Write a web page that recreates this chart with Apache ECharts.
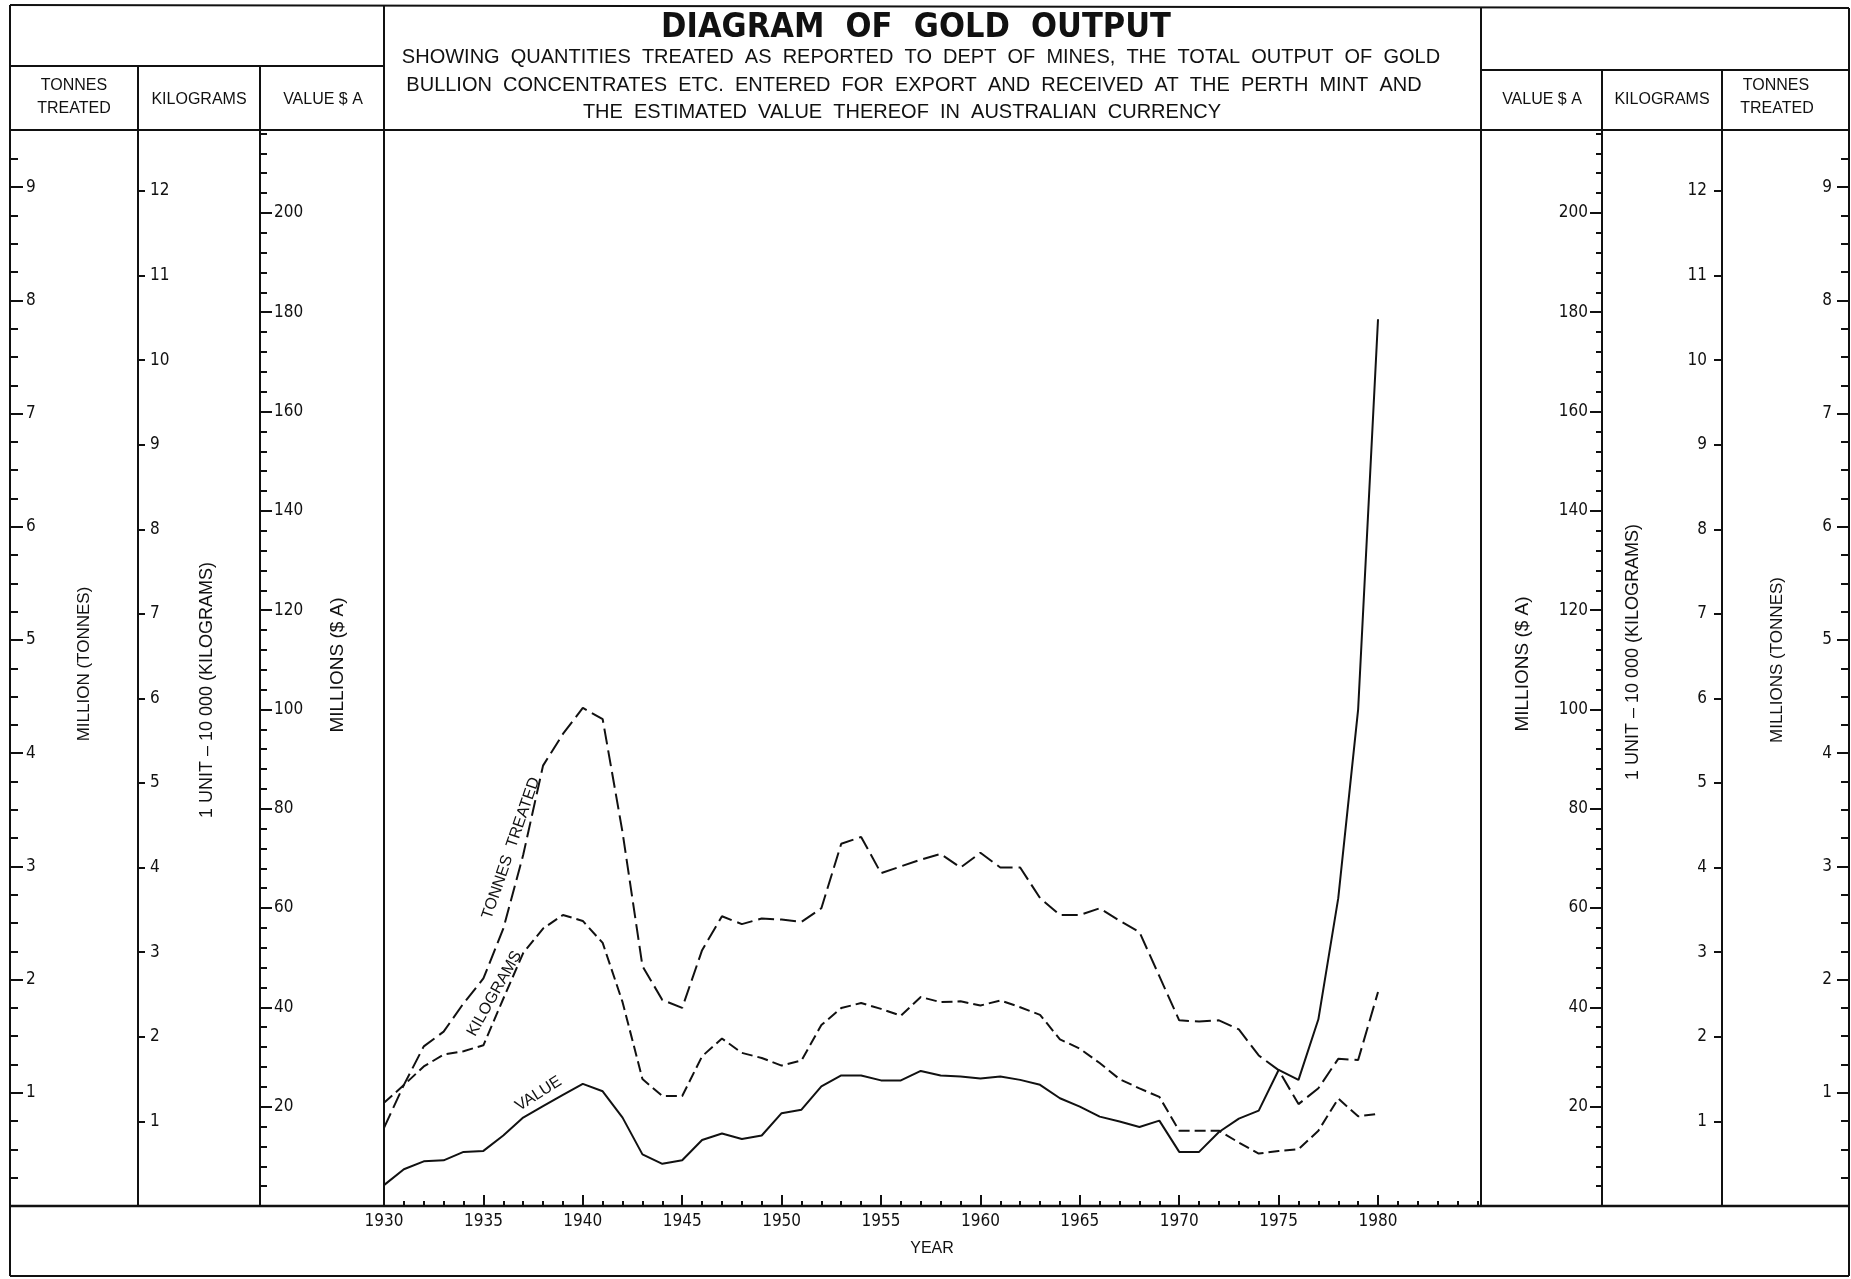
<!DOCTYPE html>
<html><head><meta charset="utf-8">
<script src="https://cdn.jsdelivr.net/npm/echarts@6/dist/echarts.min.js"></script>
<style>html,body{margin:0;padding:0;background:#fff;}#c{width:1851px;height:1279px;}</style>
</head><body><div id="c"></div>
<script>
// ---------------- DATA ----------------
const years = [1930,1931,1932,1933,1934,1935,1936,1937,1938,1939,1940,1941,1942,1943,1944,1945,1946,1947,1948,1949,1950,1951,1952,1953,1954,1955,1956,1957,1958,1959,1960,1961,1962,1963,1964,1965,1966,1967,1968,1969,1970,1971,1972,1973,1974,1975,1976,1977,1978,1979,1980];
// million tonnes treated
const tonnesTreated = [0.69,1.07,1.41,1.54,1.79,2.01,2.45,3.10,3.89,4.17,4.40,4.30,3.30,2.12,1.82,1.75,2.26,2.56,2.49,2.54,2.53,2.51,2.63,3.20,3.26,2.94,3.00,3.06,3.11,2.99,3.12,2.99,2.99,2.72,2.57,2.57,2.63,2.52,2.42,2.03,1.64,1.63,1.64,1.56,1.33,1.20,0.90,1.04,1.30,1.29,1.89];
// kilograms, 1 unit = 10 000 kg
const kilograms = [1.22,1.43,1.65,1.79,1.83,1.90,2.45,2.99,3.28,3.44,3.37,3.11,2.41,1.50,1.30,1.30,1.77,1.98,1.81,1.75,1.66,1.72,2.14,2.34,2.40,2.33,2.25,2.47,2.41,2.42,2.37,2.43,2.35,2.26,1.97,1.86,1.69,1.50,1.39,1.29,0.89,0.89,0.89,0.75,0.62,0.65,0.67,0.89,1.27,1.06,1.09];
// value, millions $A
const valueSA = [4.2,7.4,9.0,9.2,10.9,11.1,14.2,17.8,20.1,22.4,24.6,23.1,17.8,10.4,8.5,9.2,13.3,14.6,13.5,14.2,18.7,19.4,24.1,26.3,26.3,25.3,25.3,27.2,26.3,26.1,25.7,26.1,25.4,24.4,21.7,20.0,18.0,17.0,15.9,17.2,10.9,10.9,14.9,17.6,19.2,27.4,25.4,37.6,62,100,178.6];

const yearLabels = [1930,1935,1940,1945,1950,1955,1960,1965,1970,1975,1980];
const tonnesTickLabels = [1,2,3,4,5,6,7,8,9];
const kgTickLabels = [1,2,3,4,5,6,7,8,9,10,11,12];
const valueTickLabels = [20,40,60,80,100,120,140,160,180,200];

// ---------------- LAYOUT ----------------
const INK = '#111';
const NARROW = "'Liberation Sans Narrow','DejaVu Sans Condensed','Liberation Sans',Arial,sans-serif";
const REG = "'Liberation Sans',Arial,sans-serif";
const L = 10, R = 1849, T = 5, B = 1276, HDR = 67, PT = 130, PB = 1206, PL = 384, PR = 1481;
const X_MIN = 1930, X_MAX = 1985.18;
const T_MAX = 9.505, K_MAX = 12.72, V_MAX = 216.7;

const minorYears = [];
for (let y = 1931; y <= 1985; y++) if (!(y % 5 === 0 && y <= 1980)) minorYears.push(y);
const tonnesMinor = [];
for (let i = 1; i <= 37; i++) if (i % 4 !== 0) tonnesMinor.push(i * 0.25);
const valueMinor = [];
for (let v = 4; v <= 216; v += 4) if (!(v % 20 === 0 && v <= 200)) valueMinor.push(v);

const plain = v => String(Math.round(v));

function yAx(pos, offset, max, ticks, len, labels, margin) {
  return {
    type: 'value', position: pos, offset: offset, min: 0, max: max,
    axisLine: { show: false }, splitLine: { show: false },
    axisTick: { show: true, inside: true, length: len, customValues: ticks, lineStyle: { color: INK, width: 2 } },
    axisLabel: labels ? { show: true, inside: true, margin: margin, customValues: labels, formatter: plain,
      fontSize: 17, fontFamily: NARROW, color: INK } : { show: false }
  };
}

const chart = echarts.init(document.getElementById('c'), null, { width: 1851, height: 1279 });

const option = {
  animation: false,
  backgroundColor: '#fff',
  grid: { left: PL, right: 1851 - PR, top: PT, bottom: 1279 - PB, containLabel: false, outerBoundsMode: 'none' },
  xAxis: [
    { type: 'value', min: X_MIN, max: X_MAX, position: 'bottom',
      axisLine: { show: false }, splitLine: { show: false },
      axisTick: { show: true, inside: true, length: 5, customValues: minorYears, lineStyle: { color: INK, width: 2 } },
      axisLabel: { show: false } },
    { type: 'value', min: X_MIN, max: X_MAX, position: 'bottom',
      axisLine: { show: false }, splitLine: { show: false },
      axisTick: { show: true, inside: true, length: 11, customValues: yearLabels, lineStyle: { color: INK, width: 2 } },
      axisLabel: { show: true, margin: 7, customValues: yearLabels, formatter: plain,
        fontSize: 17, fontFamily: NARROW, color: INK } }
  ],
  yAxis: [
    yAx('left', PL - L, T_MAX, tonnesTickLabels, 13, tonnesTickLabels, 16),   // 0
    yAx('left', PL - L, T_MAX, tonnesMinor, 8),                                // 1
    yAx('left', PL - 138, K_MAX, kgTickLabels, 7, kgTickLabels, 12),          // 2
    yAx('left', PL - 260, V_MAX, valueTickLabels, 12, valueTickLabels, 14),   // 3
    yAx('left', PL - 260, V_MAX, valueMinor, 7),                               // 4
    yAx('right', 1602 - PR, V_MAX, valueTickLabels, 12, valueTickLabels, 14), // 5
    yAx('right', 1602 - PR, V_MAX, valueMinor, 6),                             // 6
    yAx('right', 1722 - PR, K_MAX, kgTickLabels, 8, kgTickLabels, 15),        // 7
    yAx('right', R - PR, T_MAX, tonnesTickLabels, 12, tonnesTickLabels, 17),  // 8
    yAx('right', R - PR, T_MAX, tonnesMinor, 8)                                // 9
  ],
  series: [
    { type: 'line', name: 'TONNES TREATED', xAxisIndex: 1, yAxisIndex: 0, symbol: 'none',
      data: years.map((y, i) => [y, tonnesTreated[i]]),
      lineStyle: { color: INK, width: 2, type: [16, 6] } },
    { type: 'line', name: 'KILOGRAMS', xAxisIndex: 1, yAxisIndex: 2, symbol: 'none',
      data: years.map((y, i) => [y, kilograms[i]]),
      lineStyle: { color: INK, width: 2, type: [11, 5] } },
    { type: 'line', name: 'VALUE', xAxisIndex: 1, yAxisIndex: 3, symbol: 'none',
      data: years.map((y, i) => [y, valueSA[i]]),
      lineStyle: { color: INK, width: 2 } }
  ]
};
chart.setOption(option);

// ---------------- FRAME & TEXT ----------------
const ln = (x1, y1, x2, y2, w) => ({ type: 'line', silent: true, z: 10,
  shape: { x1: x1, y1: y1, x2: x2, y2: y2 }, style: { stroke: INK, lineWidth: w || 2 } });
const tx = (text, x, y, fs, ff, rot, fw) => ({ type: 'text', silent: true, z: 10, x: x, y: y, rotation: rot || 0,
  style: { text: text, x: 0, y: 0, fontSize: fs, fontFamily: ff || REG, fontWeight: fw || 'normal',
    fill: INK, align: 'center', verticalAlign: 'middle' } });

const frame = [
  ln(L, T, R, 8), ln(L, B, R, B), ln(L, T, L, B), ln(R, 8, R, B),
  ln(L, HDR - 1, PL, HDR - 1), ln(PR, 70, R, 70),
  ln(L, PT, R, PT), ln(L, PB, R, PB, 2.5),
  ln(138, HDR, 138, PB), ln(260, HDR, 260, PB), ln(PL, T, PL, PB),
  ln(PR, 7, PR, PB), ln(1602, 70, 1602, PB), ln(1722, 70, 1722, PB),
  // header texts
  tx('TONNES', 74, 86, 16), tx('TREATED', 74, 109, 16),
  tx('KILOGRAMS', 199, 100, 16), tx('VALUE $ A', 323, 100, 16),
  tx('VALUE $ A', 1542, 100, 16), tx('KILOGRAMS', 1662, 100, 16),
  tx('TONNES', 1776, 86, 16), tx('TREATED', 1777, 109, 16),
  // title block
  tx('DIAGRAM  OF  GOLD  OUTPUT', 916, 28, 34, NARROW, 0, 'bold'),
  tx('SHOWING  QUANTITIES  TREATED  AS  REPORTED  TO  DEPT  OF  MINES,  THE  TOTAL  OUTPUT  OF  GOLD', 921, 57, 20),
  tx('BULLION  CONCENTRATES  ETC.  ENTERED  FOR  EXPORT  AND  RECEIVED  AT  THE  PERTH  MINT  AND', 914, 85, 20),
  tx('THE  ESTIMATED  VALUE  THEREOF  IN  AUSTRALIAN  CURRENCY', 902, 112, 20),
  // axis titles
  tx('MILLION (TONNES)', 84, 664, 17, REG, Math.PI / 2),
  tx('1 UNIT \u2013 10 000 (KILOGRAMS)', 207, 690, 18, REG, Math.PI / 2),
  tx('MILLIONS ($ A)', 338, 665, 19, REG, Math.PI / 2),
  tx('MILLIONS ($ A)', 1523, 664, 19, REG, Math.PI / 2),
  tx('1 UNIT \u2013 10 000 (KILOGRAMS)', 1633, 652, 18, REG, Math.PI / 2),
  tx('MILLIONS (TONNES)', 1777, 660, 17, REG, Math.PI / 2),
  tx('YEAR', 932, 1249, 16)
];

// curve labels anchored in data space
const curveLabels = [
  { text: 'TONNES  TREATED', x: 1936.39, y: 3.16, yAxisIndex: 0, rot: 71 },
  { text: 'KILOGRAMS', x: 1935.56, y: 2.51, yAxisIndex: 2, rot: 60.5 },
  { text: 'VALUE', x: 1937.77, y: 22.6, yAxisIndex: 3, rot: 32.5 }
];
const extra = curveLabels.map(c => {
  const p = chart.convertToPixel({ xAxisIndex: 1, yAxisIndex: c.yAxisIndex }, [c.x, c.y]);
  return tx(c.text, p[0], p[1], 16, REG, c.rot * Math.PI / 180);
});
chart.setOption({ graphic: frame.concat(extra) });
</script>
</body></html>
